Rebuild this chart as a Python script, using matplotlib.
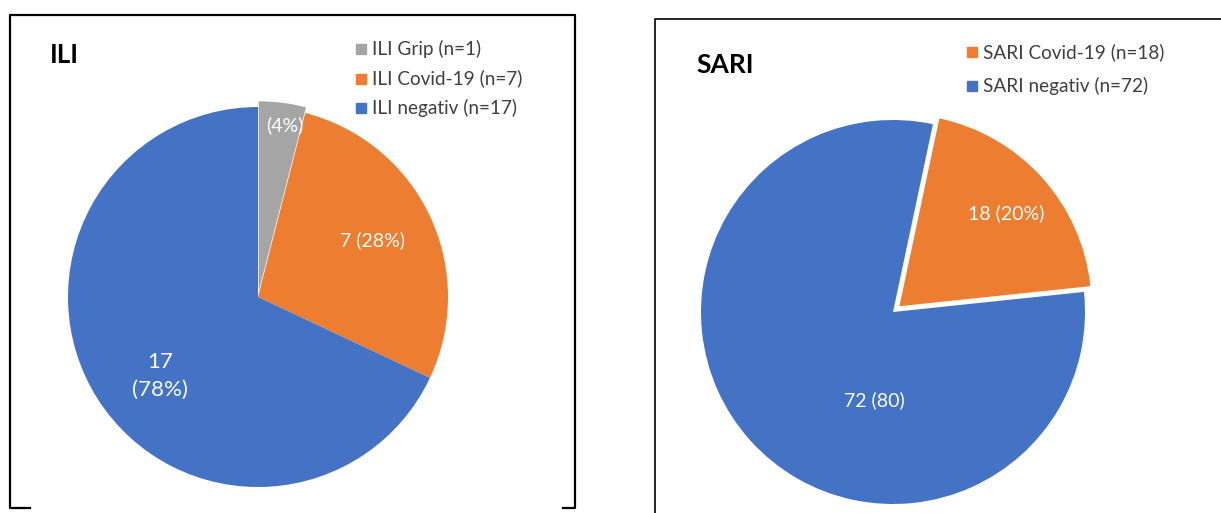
import matplotlib.pyplot as plt
from matplotlib.lines import Line2D
from matplotlib.patches import Rectangle

W, H = 1221, 513
plt.rcParams['font.family'] = ['Lato', 'DejaVu Sans']

# date
ili_labels = ['ILI Grip (n=1)', 'ILI Covid-19 (n=7)', 'ILI negativ (n=17)']
ili_values = [1, 7, 17]
ili_texts = ['(4%)', '7 (28%)', '17\n(78%)']

sari_labels = ['SARI Covid-19 (n=18)', 'SARI negativ (n=72)']
sari_values = [18, 72]
sari_texts = ['18 (20%)', '72 (80)']

grey, orange, blue = '#A5A5A5', '#ED7D31', '#4472C4'


def fx(px):
    return px / W


def fy(py):
    return 1 - py / H


def pie_axes(cx, cy, r):
    h = 1.25 * r
    return fig.add_axes([fx(cx - h), fy(cy + h), 2 * h / W, 2 * h / H])


fig = plt.figure(figsize=(W / 100, H / 100), dpi=100)

# lewy wykres - ILI
ax1 = pie_axes(258, 297, 190)
w1, _ = ax1.pie(ili_values, colors=[grey, orange, blue], startangle=90,
                counterclock=False, explode=[0.03, 0, 0],
                wedgeprops=dict(linewidth=0))
ax1.set_xlim(-1.25, 1.25)
ax1.set_ylim(-1.25, 1.25)

# prawy wykres - SARI
ax2 = pie_axes(893, 312, 192)
w2, _ = ax2.pie(sari_values, colors=[orange, blue], startangle=78,
                counterclock=False, explode=[0.045, 0],
                wedgeprops=dict(linewidth=0))
ax2.set_xlim(-1.25, 1.25)
ax2.set_ylim(-1.25, 1.25)

# etykiety na wycinkach
lab_pos1 = [(285, 125), (373, 240), (160, 376)]
for t, (x, y) in zip(ili_texts, lab_pos1):
    fig.text(fx(x), fy(y), t, color='white', fontsize=14 if '\n' not in t else 16,
             ha='center', va='center', linespacing=1.5)
lab_pos2 = [(1006, 213), (874, 400)]
for t, (x, y) in zip(sari_texts, lab_pos2):
    fig.text(fx(x), fy(y), t, color='white', fontsize=14, ha='center', va='center')

# tytuly
fig.text(fx(50), fy(55), 'ILI', fontsize=18.5, fontweight='bold', va='center')
fig.text(fx(696), fy(65), 'SARI', fontsize=19, fontweight='bold', va='center')

# legendy
def legend(x, y0, dy, labels, colors):
    for i, (lab, c) in enumerate(zip(labels, colors)):
        y = y0 + i * dy
        fig.add_artist(Rectangle((fx(x), fy(y + 5)), 10 / W, 10 / H,
                                 transform=fig.transFigure, color=c))
        fig.text(fx(x + 16), fy(y), lab, fontsize=13.7, va='center', color='#404040')


legend(356, 49, 29.5, ili_labels, [grey, orange, blue])
legend(967, 52, 34, sari_labels, [orange, blue])

# ramki
def line(xs, ys, lw):
    fig.add_artist(Line2D([fx(x) for x in xs], [fy(y) for y in ys],
                          transform=fig.transFigure, color='black', lw=lw,
                          solid_capstyle='projecting'))


line([30, 10, 10, 575, 575, 563], [508, 508, 15, 15, 508, 508], 1.6)
line([655, 655, W + 5], [H + 5, 19, 19], 1.2)

fig.savefig('out.png', dpi=100)
